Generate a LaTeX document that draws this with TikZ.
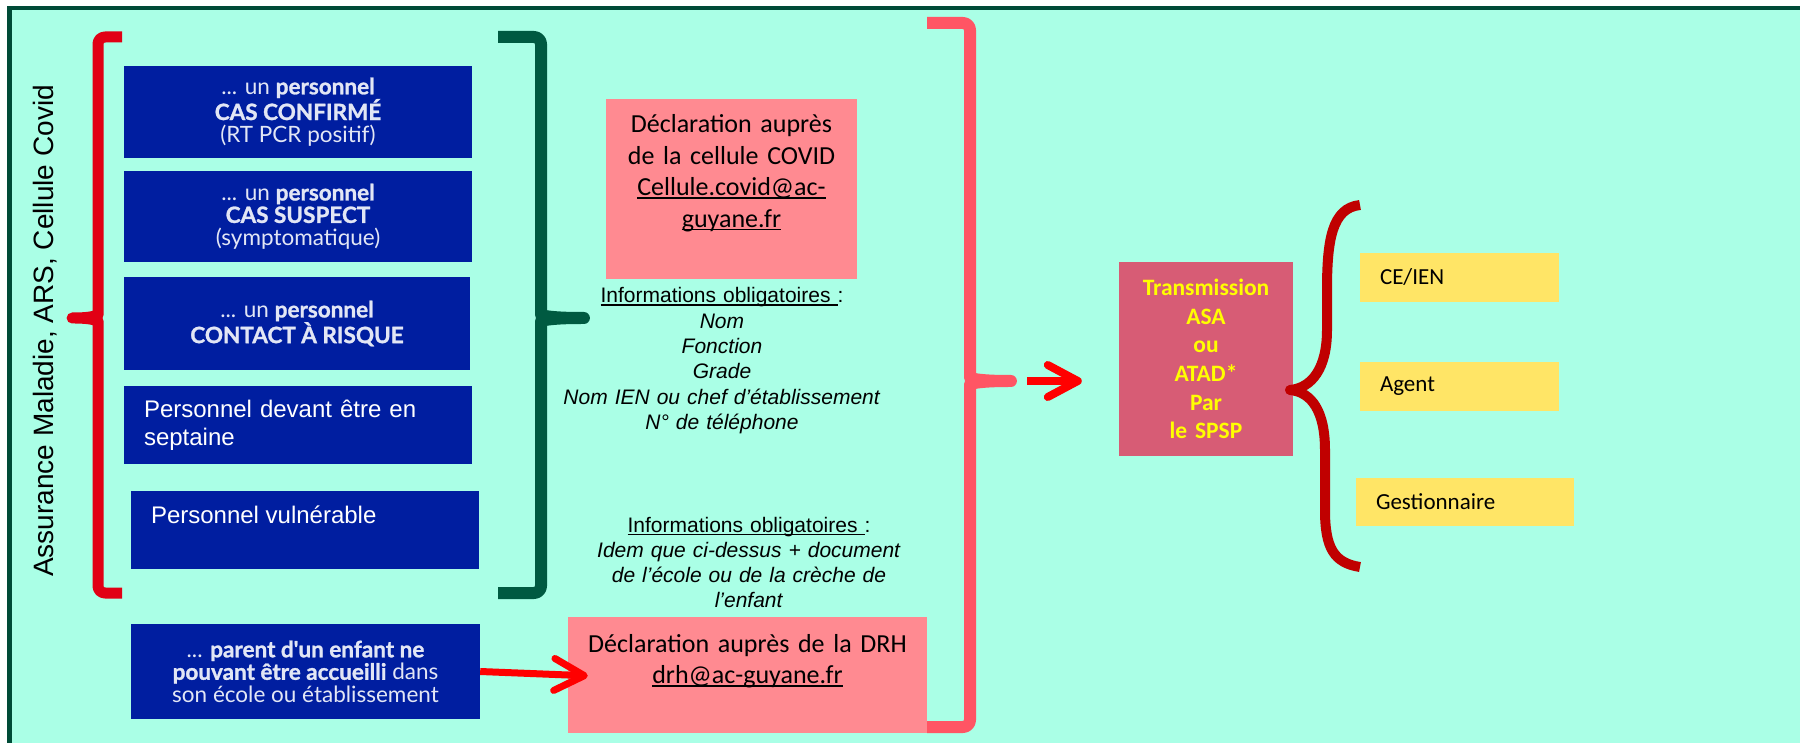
\documentclass[tikz,border=0pt]{standalone}
\usepackage{fontspec}
\setmainfont{Liberation Sans}
\newfontfamily\calib{Carlito}
\newfontfamily\mari{Lato}[BoldFeatures={FakeBold=1.2}]
\usepackage{tikz}
\usetikzlibrary{calc}
\usetikzlibrary{arrows.meta}

\newlength\soulw
\newcommand{\souligne}[1]{\leavevmode\settowidth{\soulw}{#1}\rlap{\rule[-3pt]{\soulw}{1.5pt}}#1}

\definecolor{mint}{RGB}{170,255,230}
\definecolor{cadre}{RGB}{0,75,55}
\definecolor{bleu}{RGB}{0,30,160}
\definecolor{pale}{RGB}{226,230,245}
\definecolor{rose}{RGB}{255,138,145}
\definecolor{spspcol}{RGB}{215,92,117}
\definecolor{jaunebox}{RGB}{255,229,102}
\definecolor{jaunetxt}{RGB}{255,255,0}
\definecolor{rougebrk}{RGB}{225,0,20}
\definecolor{vertbrk}{RGB}{0,90,65}
\definecolor{saumon}{RGB}{255,85,100}
\definecolor{bordeaux}{RGB}{192,0,0}
\definecolor{rouge}{RGB}{255,0,0}

\begin{document}
\begin{tikzpicture}[x=1pt, y=-1pt,
    bluebox/.style={fill=bleu, inner sep=0pt, text=white},
    imgbox/.style={bluebox, text=pale, align=center, font=\mari\fontsize{22.5}{22.5}\selectfont},
    pinkbox/.style={fill=rose, inner sep=0pt},
    pinktxt/.style={anchor=base, inner sep=0pt, align=center, font=\calib\fontsize{26}{31.5}\selectfont},
    infotxt/.style={anchor=base, inner sep=0pt, align=center, text width=420pt, font=\fontsize{21}{25.3}\selectfont},
    jaune/.style={fill=jaunebox, inner xsep=20pt, inner ysep=0pt, align=left, font=\calib\fontsize{23}{26}\selectfont},
    brk/.style={line width=11pt, line join=round, rounded corners=7pt},
    fleche/.style={draw=rouge, line width=7pt, -{Straight Barb[length=30pt, width=32pt, round]}}
  ]
    \useasboundingbox (0,0) rectangle (1800,743);
    \fill[white] (0,0) rectangle (1800,743);
    \draw[cadre, line width=4.5pt, fill=mint] (9.5,8) rectangle (1830,745);

    \node[rotate=90, anchor=base, inner sep=0pt, font=\fontsize{28}{30}\selectfont] (asso) at (53,331) {Assurance Maladie, ARS, Cellule Covid};

    % cas du personnel
    \node[imgbox, minimum width=348pt, minimum height=92pt] (confirme) at (298,112) {... un \textbf{personnel}\\\textbf{CAS CONFIRMÉ}\\(RT PCR positif)};
    \node[imgbox, minimum width=348pt, minimum height=91pt] (suspect) at (298,216.5) {... un \textbf{personnel}\\\textbf{CAS SUSPECT}\\(symptomatique)};
    \node[imgbox, minimum width=346pt, minimum height=93pt] (contact) at (297,323.5) {... un \textbf{personnel}\\\textbf{CONTACT À RISQUE}};
    \node[bluebox, minimum width=348pt, minimum height=78pt, inner xsep=20pt, text width=308pt, align=left, font=\fontsize{24}{28}\selectfont] (septaine) at (298,425) {Personnel devant être en\\septaine};
    \node[bluebox, minimum width=348pt, minimum height=78pt] (vuln) at (305,530) {};
    \node[anchor=base west, inner sep=0pt, text=white, font=\fontsize{24}{28}\selectfont] (vulntxt) at ($(vuln.north west)+(20,33)$) {Personnel vulnérable};
    \node[imgbox, minimum width=349pt, minimum height=95pt] (parent) at (305.5,671.5) {... \textbf{parent d'un enfant ne}\\\textbf{pouvant être accueilli} dans\\son école ou établissement};

    % crochets
    \draw[brk, rougebrk] (122,37) -- (98,37) -- (98,308) .. controls (98,315) and (92,318) .. (68,318) .. controls (92,318) and (98,321) .. (98,328) -- (98,593) -- (122,593);
    \draw[brk, vertbrk, line width=12pt] (498,37) -- (541,37) -- (541,308) .. controls (541,315) and (548,318) .. (588,318) .. controls (548,318) and (541,321) .. (541,328) -- (541,593) -- (498,593);
    \draw[brk, saumon, line width=12pt] (927,23) -- (970,23) -- (970,371) .. controls (970,378) and (978,381) .. (1015,381) .. controls (978,381) and (970,384) .. (970,391) -- (970,727) -- (927,727);
    \coordinate (saltip) at (1015,381);

    % declarations
    \node[pinkbox, minimum width=251pt, minimum height=180pt] (covid) at (731.5,189) {};
    \node[pinktxt, text width=251pt] (covidtxt) at (731.5,133) {Déclaration auprès\\de la cellule COVID\\\souligne{Cellule.covid@ac-}\\\souligne{guyane.fr}};
    \node[infotxt] (info1) at (722,303) {\souligne{Informations obligatoires\ }:\\\textit{Nom}\\\textit{Fonction}\\\textit{Grade}\\\textit{Nom IEN ou chef d’établissement}\\\textit{N° de téléphone}};
    \node[infotxt] (info2) at (749,532) {\souligne{Informations obligatoires\ }:\\\textit{Idem que ci-dessus + document}\\\textit{de l’école ou de la crèche de}\\\textit{l’enfant}};
    \node[pinkbox, minimum width=359pt, minimum height=116pt] (drh) at (747.5,675) {};
    \node[pinktxt, text width=359pt] (drhtxt) at (747.5,652) {Déclaration auprès de la DRH\\\souligne{drh@ac-guyane.fr}};

    \draw[fleche, shorten >=-20pt] (parent.east) -- (drh.west);

    % transmission
    \node[fill=spspcol, minimum width=174pt, minimum height=194pt, text width=174pt, inner sep=0pt, align=center, text=jaunetxt, font=\calib\bfseries\fontsize{23.5}{28.6}\selectfont] (spsp) at (1206,359) {Transmission\\ASA\\ou\\ATAD*\\Par\\le SPSP};
    \draw[fleche, line width=8pt, shorten >=37pt] ($(saltip)+(12,0)$) -- (saltip -| spsp.west);

    \draw[bordeaux, line width=10pt, line join=round] (1360,205) .. controls (1332,208) and (1327,240) .. (1327,290) -- (1327,330) .. controls (1327,368) and (1312,388) .. (1290,390) .. controls (1312,392) and (1325,412) .. (1325,450) -- (1325,510) .. controls (1325,548) and (1334,563) .. (1360,567);

    \node[jaune, minimum width=199pt, minimum height=49pt, text width=159pt] (ceien) at (1459.5,277.5) {CE/IEN};
    \node[jaune, minimum width=199pt, minimum height=49pt, text width=159pt] (agent) at (1459.5,386.5) {Agent};
    \node[jaune, minimum width=218pt, minimum height=48pt, text width=178pt] (gest) at (1465,502) {Gestionnaire};
\end{tikzpicture}
\end{document}
